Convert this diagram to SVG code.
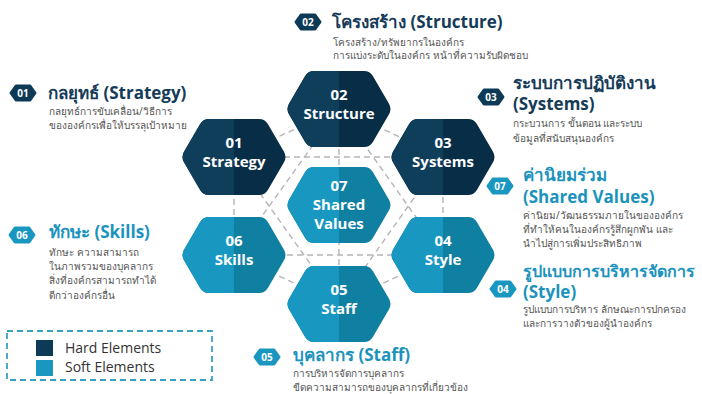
<svg xmlns="http://www.w3.org/2000/svg" xmlns:xlink="http://www.w3.org/1999/xlink" width="702" height="394" viewBox="0 0 702 394">
<style>
.bg{fill:#ffffff}
.conn{stroke:#b5b5b5;stroke-width:1.4;stroke-dasharray:6 4;fill:none}
.hardL{fill:#0f3e5b}.hardR{fill:#082e47}
.softL{fill:#1898c0}.softR{fill:#0f7fa2}
.hl{font-family:"Open Sans","Noto Sans",sans-serif;font-weight:700;font-size:15px;fill:#ffffff;text-anchor:middle}
.bh{fill:#0d3a56;stroke:#0d3a56;stroke-width:3;stroke-linejoin:round}
.bs{fill:#1a97c0;stroke:#1a97c0;stroke-width:3;stroke-linejoin:round}
.bt{font-family:"Open Sans","Noto Sans",sans-serif;font-weight:700;font-size:10px;fill:#ffffff;text-anchor:middle}
.th{font-family:"Open Sans","Noto Sans",sans-serif;font-weight:700;font-size:17px;fill:#163b58}
.ts{font-family:"Open Sans","Noto Sans",sans-serif;font-weight:700;font-size:17px;fill:#1b93bd}
.d{font-family:"Noto Sans","Open Sans",sans-serif;font-size:10px;fill:#555555}
.lg{font-family:"Open Sans","Noto Sans",sans-serif;font-size:14px;fill:#333333}
</style>
<defs>
<path id="hex" d="M -50,-5.2 L -34,-32.8 Q -31,-38 -25,-38 L 25,-38 Q 31,-38 34,-32.8 L 50,-5.2 Q 53,0 50,5.2 L 34,32.8 Q 31,38 25,38 L -25,38 Q -31,38 -34,32.8 L -50,5.2 Q -53,0 -50,-5.2 Z"/>
<path id="badge" d="M -12,0 L -7,-7 L 7,-7 L 12,0 L 7,7 L -7,7 Z"/>
<clipPath id="lh" clipPathUnits="userSpaceOnUse"><rect x="-60" y="-45" width="60" height="90"/></clipPath>
</defs>
<rect class="bg" x="0" y="0" width="702" height="394"/>

<g id="connectors">
<line class="conn" x1="234" y1="157" x2="339" y2="109"/>
<line class="conn" x1="339" y1="109" x2="443" y2="157"/>
<line class="conn" x1="443" y1="157" x2="443" y2="255"/>
<line class="conn" x1="443" y1="255" x2="339" y2="304"/>
<line class="conn" x1="339" y1="304" x2="234" y2="255"/>
<line class="conn" x1="234" y1="255" x2="234" y2="157"/>
<line class="conn" x1="234" y1="157" x2="443" y2="157"/>
<line class="conn" x1="443" y1="157" x2="339" y2="304"/>
<line class="conn" x1="339" y1="304" x2="234" y2="157"/>
<line class="conn" x1="339" y1="109" x2="443" y2="255"/>
<line class="conn" x1="443" y1="255" x2="234" y2="255"/>
<line class="conn" x1="234" y1="255" x2="339" y2="109"/>
<line class="conn" x1="339" y1="109" x2="339" y2="304"/>
</g>

<g id="hex02" transform="translate(339,109)">
<use xlink:href="#hex" class="hardR"/><use xlink:href="#hex" class="hardL" clip-path="url(#lh)"/>
<text class="hl" x="0" y="-9">02</text><text class="hl" x="0" y="10">Structure</text>
</g>
<g id="hex01" transform="translate(234,157)">
<use xlink:href="#hex" class="hardR"/><use xlink:href="#hex" class="hardL" clip-path="url(#lh)"/>
<text class="hl" x="0" y="-9">01</text><text class="hl" x="0" y="10">Strategy</text>
</g>
<g id="hex03" transform="translate(443,157)">
<use xlink:href="#hex" class="hardR"/><use xlink:href="#hex" class="hardL" clip-path="url(#lh)"/>
<text class="hl" x="0" y="-9">03</text><text class="hl" x="0" y="10">Systems</text>
</g>
<g id="hex07" transform="translate(339,205)">
<use xlink:href="#hex" class="softR"/><use xlink:href="#hex" class="softL" clip-path="url(#lh)"/>
<text class="hl" x="0" y="-14">07</text><text class="hl" x="0" y="5">Shared</text><text class="hl" x="0" y="24">Values</text>
</g>
<g id="hex06" transform="translate(234,255)">
<use xlink:href="#hex" class="softR"/><use xlink:href="#hex" class="softL" clip-path="url(#lh)"/>
<text class="hl" x="0" y="-9">06</text><text class="hl" x="0" y="10">Skills</text>
</g>
<g id="hex04" transform="translate(443,255)">
<use xlink:href="#hex" class="softR"/><use xlink:href="#hex" class="softL" clip-path="url(#lh)"/>
<text class="hl" x="0" y="-9">04</text><text class="hl" x="0" y="10">Style</text>
</g>
<g id="hex05" transform="translate(339,304)">
<use xlink:href="#hex" class="softR"/><use xlink:href="#hex" class="softL" clip-path="url(#lh)"/>
<text class="hl" x="0" y="-9">05</text><text class="hl" x="0" y="10">Staff</text>
</g>

<g id="label02">
<use xlink:href="#badge" class="bh" transform="translate(308,22)"/><text class="bt" x="308" y="25.5">02</text>
<text class="th" x="332" y="28">โครงสร้าง (Structure)</text>
<text class="d" x="333" y="46">โครงสร้าง/ทรัพยากรในองค์กร</text>
<text class="d" x="333" y="59">การแบ่งระดับในองค์กร หน้าที่ความรับผิดชอบ</text>
</g>
<g id="label01">
<use xlink:href="#badge" class="bh" transform="translate(23,93)"/><text class="bt" x="23" y="96.5">01</text>
<text class="th" x="48" y="99">กลยุทธ์ (Strategy)</text>
<text class="d" x="49" y="115">กลยุทธ์การขับเคลื่อน/วิธีการ</text>
<text class="d" x="49" y="129">ขององค์กรเพื่อให้บรรลุเป้าหมาย</text>
</g>
<g id="label03">
<use xlink:href="#badge" class="bh" transform="translate(491,97)"/><text class="bt" x="491" y="100.5">03</text>
<text class="th" x="513" y="89">ระบบการปฏิบัติงาน</text>
<text class="th" x="513" y="110">(Systems)</text>
<text class="d" x="513" y="127">กระบวนการ ขั้นตอน และระบบ</text>
<text class="d" x="513" y="142">ข้อมูลที่สนับสนุนองค์กร</text>
</g>
<g id="label07">
<use xlink:href="#badge" class="bs" transform="translate(500,186)"/><text class="bt" x="500" y="189.5">07</text>
<text class="ts" x="523" y="181">ค่านิยมร่วม</text>
<text class="ts" x="523" y="203">(Shared Values)</text>
<text class="d" x="523" y="219">ค่านิยม/วัฒนธรรมภายในขององค์กร</text>
<text class="d" x="523" y="233">ที่ทำให้คนในองค์กรรู้สึกผูกพัน และ</text>
<text class="d" x="523" y="247">นำไปสู่การเพิ่มประสิทธิภาพ</text>
</g>
<g id="label04">
<use xlink:href="#badge" class="bs" transform="translate(503,289)"/><text class="bt" x="503" y="292.5">04</text>
<text class="ts" x="523" y="277" style="font-size:16px" textLength="172" lengthAdjust="spacingAndGlyphs">รูปแบบการบริหารจัดการ</text>
<text class="ts" x="523" y="298">(Style)</text>
<text class="d" x="523" y="313">รูปแบบการบริหาร ลักษณะการปกครอง</text>
<text class="d" x="523" y="327">และการวางตัวของผู้นำองค์กร</text>
</g>
<g id="label06">
<use xlink:href="#badge" class="bs" transform="translate(22,235)"/><text class="bt" x="22" y="238.5">06</text>
<text class="ts" x="49" y="238">ทักษะ (Skills)</text>
<text class="d" x="49" y="256">ทักษะ ความสามารถ</text>
<text class="d" x="49" y="270">ในภาพรวมของบุคลากร</text>
<text class="d" x="49" y="284">สิ่งที่องค์กรสามารถทำได้</text>
<text class="d" x="49" y="299">ดีกว่าองค์กรอื่น</text>
</g>
<g id="label05">
<use xlink:href="#badge" class="bs" transform="translate(267,357)"/><text class="bt" x="267" y="360.5">05</text>
<text class="ts" x="293" y="361">บุคลากร (Staff)</text>
<text class="d" x="293" y="377">การบริหารจัดการบุคลากร</text>
<text class="d" x="293" y="391">ขีดความสามารถของบุคลากรที่เกี่ยวข้อง</text>
</g>

<g id="legend">
<rect x="7" y="331" width="205" height="49" fill="none" stroke="#3aa0c4" stroke-width="1.8" stroke-dasharray="6 4"/>
<rect x="36" y="340" width="17" height="16" fill="#0d3a56"/>
<rect x="36" y="360" width="17" height="16" fill="#1a97c0"/>
<text class="lg" x="65" y="353">Hard Elements</text>
<text class="lg" x="65" y="372">Soft Elements</text>
</g>
</svg>
